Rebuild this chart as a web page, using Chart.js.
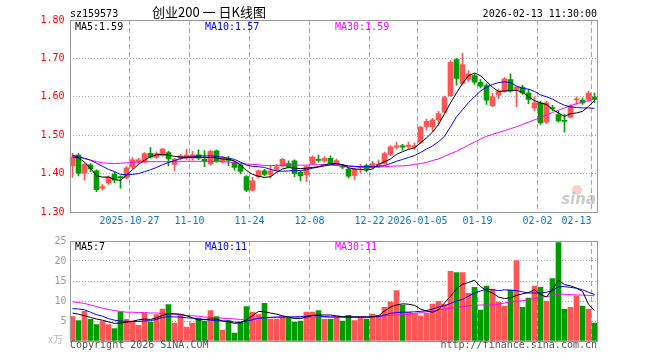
<!DOCTYPE html>
<html><head><meta charset="utf-8">
<script src="https://cdn.jsdelivr.net/npm/chart.js@4.4.1/dist/chart.umd.min.js"></script>
<style>
html,body{margin:0;padding:0;background:#fff;}
#wrap{position:relative;width:660px;height:360px;overflow:hidden;}
#c1{position:absolute;left:0;top:0;}
#c2{position:absolute;left:0;top:232px;}
</style></head><body>
<div id="wrap">
<canvas id="c1" width="660" height="232" style="width:660px;height:232px"></canvas>
<canvas id="c2" width="660" height="128" style="width:660px;height:128px"></canvas>
</div>
<script>
const dates = [
'2025-10-13','2025-10-14','2025-10-15','2025-10-16','2025-10-17','2025-10-20','2025-10-21','2025-10-22','2025-10-23','2025-10-24',
'2025-10-27','2025-10-28','2025-10-29','2025-10-30','2025-10-31','2025-11-03','2025-11-04','2025-11-05','2025-11-06','2025-11-07',
'2025-11-10','2025-11-11','2025-11-12','2025-11-13','2025-11-14','2025-11-17','2025-11-18','2025-11-19','2025-11-20','2025-11-21',
'2025-11-24','2025-11-25','2025-11-26','2025-11-27','2025-11-28','2025-12-01','2025-12-02','2025-12-03','2025-12-04','2025-12-05',
'2025-12-08','2025-12-09','2025-12-10','2025-12-11','2025-12-12','2025-12-15','2025-12-16','2025-12-17','2025-12-18','2025-12-19',
'2025-12-22','2025-12-23','2025-12-24','2025-12-25','2025-12-26','2025-12-29','2025-12-30','2025-12-31','2026-01-05','2026-01-06',
'2026-01-07','2026-01-08','2026-01-09','2026-01-12','2026-01-13','2026-01-14','2026-01-15','2026-01-16','2026-01-19','2026-01-20',
'2026-01-21','2026-01-22','2026-01-23','2026-01-26','2026-01-27','2026-01-28','2026-01-29','2026-01-30','2026-02-02','2026-02-03',
'2026-02-04','2026-02-05','2026-02-06','2026-02-09','2026-02-10','2026-02-11','2026-02-12','2026-02-13'];

const tickDates  = ['2025-10-27','2025-11-10','2025-11-24','2025-12-08','2025-12-22','2026-01-05','2026-01-19','2026-02-02','2026-02-13'];
const tickLabels = ['2025-10-27','11-10','11-24','12-08','12-22','2026-01-05','01-19','02-02','02-13'];

const open = [1.420,1.448,1.401,1.423,1.407,1.362,1.376,1.398,1.392,1.389,
1.418,1.431,1.430,1.453,1.442,1.447,1.455,1.424,1.440,1.440,
1.440,1.449,1.437,1.425,1.459,1.432,1.440,1.430,1.423,1.392,
1.357,1.392,1.407,1.398,1.411,1.420,1.426,1.433,1.403,1.397,
1.426,1.437,1.433,1.440,1.427,1.419,1.412,1.395,1.416,1.421,
1.418,1.421,1.426,1.450,1.469,1.472,1.470,1.469,1.482,1.523,
1.522,1.540,1.560,1.603,1.697,1.635,1.645,1.655,1.638,1.629,
1.577,1.604,1.615,1.645,1.619,1.625,1.610,1.571,1.584,1.534,
1.572,1.554,1.538,1.547,1.592,1.591,1.593,1.599];
const high = [1.453,1.453,1.426,1.426,1.410,1.372,1.394,1.403,1.394,1.418,
1.442,1.440,1.455,1.468,1.457,1.466,1.458,1.440,1.450,1.463,
1.458,1.462,1.460,1.461,1.461,1.445,1.445,1.432,1.426,1.395,
1.390,1.410,1.411,1.420,1.424,1.440,1.433,1.436,1.406,1.420,
1.446,1.448,1.444,1.446,1.438,1.424,1.415,1.414,1.424,1.425,
1.432,1.436,1.456,1.473,1.482,1.476,1.482,1.480,1.523,1.542,
1.544,1.562,1.602,1.694,1.700,1.713,1.668,1.660,1.645,1.634,
1.610,1.621,1.650,1.660,1.628,1.630,1.619,1.600,1.588,1.588,
1.578,1.563,1.555,1.580,1.600,1.597,1.615,1.610];
const low = [1.390,1.394,1.383,1.405,1.353,1.357,1.372,1.376,1.362,1.386,
1.413,1.426,1.428,1.440,1.440,1.445,1.420,1.407,1.435,1.437,
1.435,1.436,1.418,1.422,1.430,1.428,1.420,1.409,1.400,1.353,
1.355,1.388,1.394,1.388,1.407,1.418,1.415,1.392,1.381,1.379,
1.424,1.430,1.430,1.424,1.420,1.412,1.389,1.385,1.402,1.405,
1.413,1.415,1.424,1.447,1.464,1.461,1.464,1.463,1.478,1.513,
1.510,1.525,1.558,1.601,1.630,1.632,1.640,1.632,1.623,1.580,
1.574,1.595,1.612,1.612,1.574,1.606,1.582,1.563,1.528,1.530,
1.563,1.534,1.508,1.545,1.580,1.580,1.588,1.585];
const close = [1.443,1.401,1.425,1.412,1.358,1.366,1.391,1.383,1.389,1.415,
1.436,1.436,1.452,1.443,1.452,1.464,1.438,1.437,1.446,1.448,
1.449,1.440,1.433,1.458,1.433,1.442,1.434,1.416,1.406,1.357,
1.381,1.407,1.398,1.407,1.417,1.437,1.418,1.400,1.394,1.418,
1.443,1.434,1.440,1.427,1.434,1.417,1.393,1.411,1.418,1.412,
1.426,1.424,1.452,1.470,1.472,1.469,1.474,1.473,1.521,1.536,
1.540,1.556,1.598,1.690,1.648,1.684,1.660,1.638,1.628,1.591,
1.600,1.615,1.647,1.615,1.625,1.610,1.593,1.584,1.532,1.584,
1.569,1.537,1.536,1.576,1.594,1.584,1.610,1.593];

const ma5 = [1.443,1.441,1.430,1.414,1.394,1.391,1.391,1.385,1.382,1.396,
1.410,1.424,1.435,1.444,1.449,1.450,1.448,1.445,1.443,1.443,
1.442,1.443,1.442,1.442,1.441,1.438,1.437,1.433,1.422,1.408,
1.398,1.393,1.390,1.392,1.403,1.412,1.416,1.414,1.413,1.414,
1.416,1.418,1.423,1.426,1.426,1.423,1.415,1.412,1.411,1.409,
1.412,1.424,1.431,1.438,1.450,1.457,1.463,1.467,1.480,1.493,
1.508,1.528,1.556,1.584,1.610,1.635,1.655,1.662,1.655,1.640,
1.625,1.614,1.615,1.616,1.617,1.612,1.600,1.590,1.584,1.580,
1.567,1.558,1.549,1.556,1.558,1.562,1.575,1.590];
const ma10 = [1.448,1.444,1.440,1.435,1.427,1.419,1.411,1.405,1.398,1.397,
1.398,1.400,1.405,1.410,1.416,1.423,1.429,1.434,1.439,1.442,
1.444,1.446,1.446,1.446,1.445,1.443,1.440,1.437,1.430,1.422,
1.419,1.418,1.416,1.411,1.407,1.406,1.407,1.408,1.408,1.410,
1.414,1.417,1.420,1.423,1.425,1.423,1.420,1.419,1.418,1.418,
1.418,1.419,1.421,1.426,1.432,1.437,1.442,1.447,1.455,1.464,
1.472,1.483,1.497,1.522,1.548,1.566,1.585,1.600,1.615,1.625,
1.632,1.637,1.639,1.637,1.628,1.622,1.620,1.614,1.605,1.600,
1.594,1.585,1.578,1.574,1.572,1.571,1.571,1.570];
const ma30 = [1.446,1.443,1.439,1.435,1.431,1.428,1.427,1.426,1.427,1.428,
1.429,1.430,1.431,1.431,1.431,1.431,1.431,1.431,1.431,1.432,
1.432,1.432,1.432,1.432,1.431,1.431,1.430,1.429,1.427,1.425,
1.424,1.423,1.421,1.421,1.421,1.422,1.422,1.422,1.422,1.422,
1.423,1.423,1.423,1.422,1.421,1.420,1.419,1.418,1.417,1.416,
1.416,1.417,1.418,1.419,1.420,1.420,1.421,1.424,1.426,1.429,
1.434,1.438,1.445,1.452,1.458,1.466,1.474,1.482,1.490,1.497,
1.502,1.507,1.512,1.517,1.522,1.528,1.534,1.540,1.546,1.552,
1.559,1.565,1.571,1.577,1.582,1.586,1.590,1.594];

const volume = [6.1,5.1,7.4,5.4,4.1,5.0,4.1,3.1,7.2,5.4,
5.0,3.9,7.0,4.7,6.6,8.0,9.1,4.5,6.5,3.5,
4.5,5.7,5.0,7.6,6.1,2.7,5.1,2.0,4.7,8.6,
7.2,6.6,9.4,5.5,5.5,6.0,5.7,4.7,5.0,7.2,
7.2,7.6,5.4,5.4,6.0,5.0,6.4,5.1,5.8,5.5,
6.7,6.4,8.4,9.7,12.6,9.0,7.2,6.8,6.2,7.0,
9.2,9.9,9.1,17.4,17.1,17.1,11.9,13.4,7.7,13.7,
13.0,9.7,8.7,12.7,20.1,8.4,10.7,13.7,13.4,9.9,
15.6,24.6,7.9,8.4,11.2,8.7,7.9,4.5];
const volMa5 = [7.0,6.7,6.3,5.9,5.5,5.2,4.8,4.4,4.5,4.7,
4.9,5.3,5.5,5.4,5.8,6.4,6.8,6.8,6.7,6.3,
5.8,5.2,5.4,5.5,5.5,5.0,4.8,4.4,4.6,5.3,
6.3,7.4,7.3,7.0,6.7,6.3,6.0,5.6,5.6,6.0,
6.4,6.5,6.5,6.5,6.3,6.1,6.0,6.0,6.0,6.0,
6.1,6.3,7.5,8.5,9.0,9.3,9.2,8.9,8.0,7.5,
7.2,7.8,9.5,11.2,13.0,14.2,14.6,15.2,13.6,12.6,
12.0,11.0,10.6,10.8,11.4,11.8,12.1,12.8,11.6,11.0,
13.0,15.2,14.1,13.8,13.2,12.4,9.2,7.6];
const volMa10 = [8.1,8.0,7.8,7.2,6.6,6.2,5.6,5.2,5.0,4.9,
4.9,4.9,5.0,5.1,5.4,5.9,6.1,6.0,6.0,5.8,
5.7,5.5,5.4,5.2,5.1,5.0,5.0,4.7,4.7,5.0,
5.3,5.7,5.8,5.9,6.0,6.0,6.0,6.0,6.1,6.2,
6.4,6.3,6.1,6.0,6.0,6.0,6.0,6.0,6.0,6.0,
6.0,6.1,6.5,6.9,7.1,7.2,7.2,7.3,7.4,7.6,
8.0,8.5,8.8,9.4,10.0,10.4,11.2,12.0,12.5,13.0,
12.8,12.6,12.8,12.7,12.6,12.3,12.0,12.0,12.0,12.2,
12.6,13.6,13.6,13.4,13.2,12.8,12.2,11.6];
const volMa30 = [9.8,9.6,9.4,9.0,8.6,8.2,7.9,7.6,7.4,7.2,
7.2,7.1,7.1,7.0,7.0,6.9,6.8,6.7,6.6,6.4,
6.3,6.2,6.0,5.9,5.8,5.7,5.6,5.5,5.4,5.4,
5.5,5.7,5.8,5.9,5.9,6.0,6.0,6.0,6.0,6.0,
6.0,6.0,6.0,6.0,6.0,6.0,6.0,6.0,6.0,6.0,
6.1,6.1,6.3,6.4,6.5,6.6,6.7,6.9,7.1,7.3,
7.5,7.8,8.0,8.2,8.4,8.6,8.8,8.9,9.0,9.0,
9.0,9.2,9.5,9.8,9.9,10.1,10.3,10.6,10.9,11.1,
11.4,11.7,11.7,11.6,11.5,11.5,11.4,11.3];

const priceTicks = {min:1.30, max:1.80, step:0.10};
const volTicks = {min:0, max:25, step:5};

const MONO = '"DejaVu Sans Mono","Liberation Mono",monospace';
const UP = '#ff5555', DOWN = '#009c00';
const GRID = '#a8a8a8', FRAME = '#999999';
const candleColor = close.map((c,i)=> c >= open[i] ? UP : DOWN);
const gridIdx = tickDates.map(d => dates.indexOf(d));

function xAxis(showLabels){
  return {
    type:'category', offset:true,
    grid:{offset:true, drawTicks:false, lineWidth:1,
      color: c => (c.index !== undefined && gridIdx.includes(c.index)) ? GRID : 'rgba(0,0,0,0)'},
    border:{display:false, dash:[5,3]},
    ticks:{display:showLabels, autoSkip:false, maxRotation:0, minRotation:0, padding:3, labelOffset:-3,
      color:'#0a78c8', font:{family:MONO, size:10},
      callback:(v,i)=>{ const j = tickDates.indexOf(dates[i]); if (j < 0) return '';
        return i === dates.length-1 ? tickLabels[j] + '     ' : tickLabels[j]; }},
    afterFit: s => { s.height = showLabels ? 20 : 19; }
  };
}
function lineDs(data, color){
  return {type:'line', data, borderColor:color, borderWidth:1, pointRadius:0, fill:false, tension:0, order:0};
}
function drawFrame(ctx, a){
  const l = Math.round(a.left)+0.5, t = Math.round(a.top)+0.5, r = Math.round(a.right)-0.5, b = Math.round(a.bottom)+0.5;
  ctx.save(); ctx.strokeStyle = FRAME; ctx.lineWidth = 1; ctx.setLineDash([]);
  ctx.strokeRect(l, t, r-l, b-t); ctx.restore();
}
function txt(ctx, s, x, y, color, font, align){
  ctx.save(); ctx.fillStyle = color; ctx.font = font; ctx.textAlign = align || 'left'; ctx.textBaseline = 'alphabetic';
  ctx.fillText(s, x, y); ctx.restore();
}

const deco1 = {
  id:'deco1',
  beforeDatasetsDraw(chart){
    const ctx = chart.ctx;
    ctx.save();
    ctx.fillStyle = 'rgba(240,150,150,0.45)';
    ctx.beginPath(); ctx.arc(577, 190, 5, 0, Math.PI*2); ctx.fill();
    ctx.restore();
    txt(ctx, 'sina', 596, 204, 'rgba(170,170,170,0.6)', 'italic bold 15px "DejaVu Sans"', 'right');
  },
  afterDraw(chart){
    const ctx = chart.ctx;
    drawFrame(ctx, chart.chartArea);
    const f = '10px ' + MONO;
    txt(ctx, 'sz159573', 70, 17, '#000', f);
    txt(ctx, '创业200 一 日K线图', 209, 17, '#000', '13px "Noto Sans CJK SC"', 'center');
    txt(ctx, '2026-02-13 11:30:00', 597, 17, '#000', f, 'right');
    txt(ctx, 'MA5:1.59', 75, 30, '#000', f);
    txt(ctx, 'MA10:1.57', 205, 30, '#0000ee', f);
    txt(ctx, 'MA30:1.59', 335, 30, '#ff00ff', f);
  }
};
const deco2 = {
  id:'deco2',
  afterDraw(chart){
    const ctx = chart.ctx;
    drawFrame(ctx, chart.chartArea);
    const f = '10px ' + MONO;
    txt(ctx, 'MA5:7', 75, 18, '#000', f);
    txt(ctx, 'MA10:11', 205, 18, '#0000ee', f);
    txt(ctx, 'MA30:11', 335, 18, '#ff00ff', f);
    txt(ctx, 'x万', 48, 111, '#bbbbbb', '10px "Noto Sans CJK SC"');
    txt(ctx, 'Copyright 2026 SINA.COM', 70, 116, '#555', f);
    txt(ctx, 'http://finance.sina.com.cn', 597, 116, '#555', f, 'right');
  }
};

const common = {responsive:false, animation:false, events:[],
  plugins:{legend:{display:false}, tooltip:{enabled:false}}};

new Chart(document.getElementById('c1'), {
  type:'bar',
  data:{labels:dates, datasets:[
    lineDs(ma5, '#000000'), lineDs(ma10, '#0000ff'), lineDs(ma30, '#ff00ff'),
    {type:'bar', data:open.map((o,i)=>[o, close[i]]), backgroundColor:candleColor, borderWidth:0,
      barThickness:5, minBarLength:1, grouped:false, order:1},
    {type:'bar', data:low.map((l,i)=>[l, high[i]]), backgroundColor:candleColor, borderWidth:0,
      barThickness:1, grouped:false, order:2}
  ]},
  options:Object.assign({}, common, {
    layout:{padding:{left:0, right:62.5, top:20, bottom:0}},
    scales:{
      x:xAxis(true),
      y:{min:priceTicks.min, max:priceTicks.max,
        grid:{drawTicks:false, color:GRID, lineWidth:1},
        border:{display:false, dash:[1,2]},
        ticks:{stepSize:priceTicks.step, padding:5, color:'#ff0000', font:{family:MONO, size:10},
          callback:v => Number(v).toFixed(2)},
        afterFit:s => { s.width = 69.5; }}
    }
  }),
  plugins:[deco1]
});

new Chart(document.getElementById('c2'), {
  type:'bar',
  data:{labels:dates, datasets:[
    lineDs(volMa5, '#000000'), lineDs(volMa10, '#0000ff'), lineDs(volMa30, '#ff00ff'),
    {type:'bar', data:volume, backgroundColor:candleColor, borderWidth:0, barThickness:5, grouped:false, order:1}
  ]},
  options:Object.assign({}, common, {
    layout:{padding:{left:0, right:62.5, top:8, bottom:0}},
    scales:{
      x:xAxis(false),
      y:{min:volTicks.min, max:volTicks.max,
        grid:{drawTicks:false, color:c => (c.tick && c.tick.value > 0) ? GRID : 'rgba(0,0,0,0)', lineWidth:1},
        border:{display:false, dash:[1,2]},
        ticks:{stepSize:volTicks.step, padding:3, color:'#999999', font:{family:MONO, size:10},
          callback:v => v === 0 ? '' : String(v)},
        afterFit:s => { s.width = 69.5; }}
    }
  }),
  plugins:[deco2]
});
</script>
</body></html>
